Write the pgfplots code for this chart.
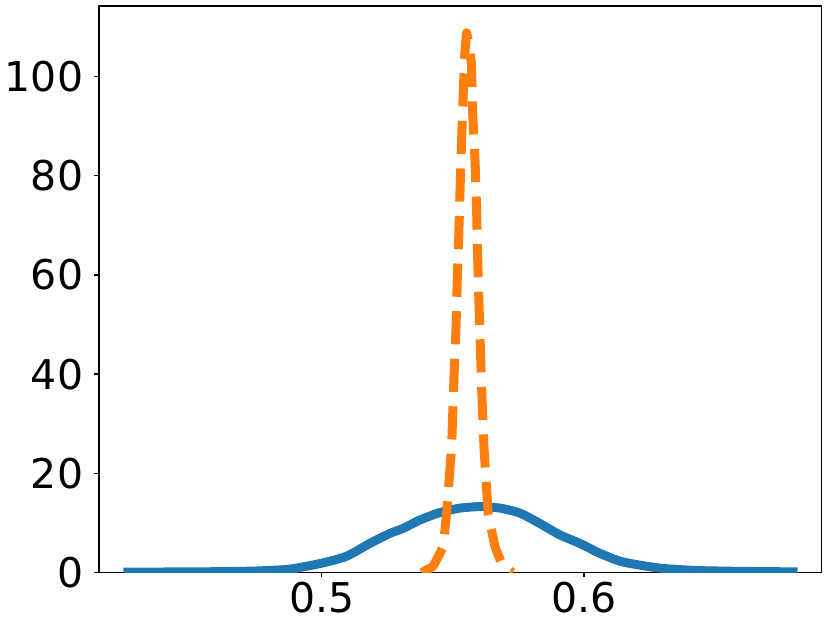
\documentclass[border=0pt]{standalone}
\usepackage{fontspec}
\setmainfont{DejaVu Sans}
\usepackage{pgfplots}
\pgfplotsset{compat=1.18}
\usetikzlibrary{calc}
\definecolor{mplblue}{HTML}{1F77B4}
\definecolor{mplorange}{HTML}{FF7F0E}

\begin{document}
\begin{tikzpicture}
\begin{axis}[
  scale only axis,
  width=361.3pt, height=283.3pt,
  xmin=0.4152, xmax=0.6904, ymin=0, ymax=114.2,
  xtick={0.5,0.6}, xticklabels={0.5,0.6},
  ytick={0,20,40,60,80,100},
  tick align=outside, tick pos=left,
  major tick length=2.4pt,
  axis line style={line width=0.8pt},
  tick style={line width=0.8pt, black},
  ticklabel style={font=\fontsize{20.5}{24}\selectfont},
  yticklabel style={xshift=-2pt},
  xticklabel style={yshift=1pt},
  /pgf/number format/assume math mode=true,
]
% broad density
\addplot[mplblue, line width=4.5pt, line join=round, line cap=rect,
  smooth, tension=0.4] coordinates {
  (0.4262,0.10) (0.4384,0.12) (0.4537,0.15) (0.4689,0.25) (0.4765,0.35)
  (0.4879,0.70) (0.5000,1.90) (0.5095,3.30) (0.5184,5.90) (0.5260,7.90)
  (0.5310,8.90) (0.5374,10.6) (0.5450,12.1) (0.5527,13.0) (0.5603,13.3)
  (0.5679,13.0) (0.5755,12.0) (0.5831,9.90) (0.5907,7.60) (0.5983,5.90)
  (0.6059,3.90) (0.6136,2.30) (0.6212,1.50) (0.6288,0.90) (0.6364,0.60)
  (0.6440,0.40) (0.6593,0.25) (0.6795,0.15)
};
% narrow density
\addplot[mplorange, line width=4.5pt, line cap=butt, line join=round,
  dash pattern=on 16.6pt off 7.2pt] coordinates {
  (0.5381,0.0) (0.5424,1.2) (0.5463,5.2) (0.5476,12.0) (0.5495,25.4)
  (0.5504,39.5) (0.5511,48.3) (0.5516,58.2) (0.5522,67.7) (0.5527,77.2)
  (0.5533,87.2) (0.5539,96.3) (0.5545,104.5) (0.5552,108.8) (0.5562,106.5)
  (0.5571,102.2) (0.5575,92.7) (0.5584,83.2) (0.5590,73.5) (0.5594,63.7)
  (0.5599,54.4) (0.5605,44.6) (0.5609,37.5) (0.5618,25.4) (0.5634,12.0)
  (0.5660,5.2) (0.5690,1.2) (0.5728,0.0)
};
\end{axis}
\pgfresetboundingbox
\path[use as bounding box] ($(current axis.south west)+(-49.5pt,-25.2pt)$)
  rectangle ($(current axis.north east)+(4.2pt,3pt)$);
\end{tikzpicture}
\end{document}
